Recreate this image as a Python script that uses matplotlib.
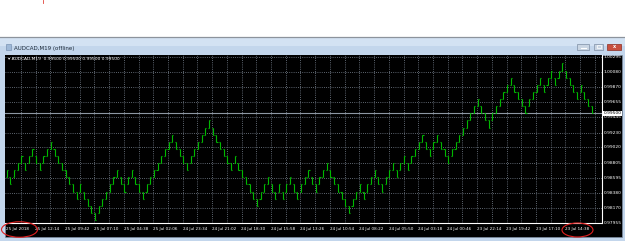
import matplotlib
matplotlib.use('Agg')
from matplotlib import pyplot as plt
from matplotlib.patches import Rectangle, Ellipse
import matplotlib.transforms as mtransforms
import numpy as np

symbol = 'AUDCAD,M19'
window_title = 'AUDCAD,M19 (offline)'
last_price = 0.99500
box = 0.0010

# lower edge of every bar (one box high), oldest bar on the left
bar_lows = [0.986, 0.985, 0.986, 0.987, 0.988, 0.987, 0.988, 0.989, 0.988, 0.987,
            0.988, 0.989, 0.990, 0.989, 0.988, 0.987, 0.986, 0.985, 0.984, 0.983,
            0.984, 0.983, 0.982, 0.981, 0.980, 0.981, 0.982, 0.983, 0.984, 0.985,
            0.986, 0.985, 0.984, 0.985, 0.986, 0.985, 0.984, 0.983, 0.984, 0.985,
            0.986, 0.987, 0.988, 0.989, 0.990, 0.991, 0.990, 0.989, 0.988, 0.987,
            0.988, 0.989, 0.990, 0.991, 0.992, 0.993, 0.992, 0.991, 0.990,
            0.989, 0.988, 0.987, 0.988, 0.987, 0.986, 0.985, 0.984, 0.983, 0.982,
            0.983, 0.984, 0.985, 0.984, 0.983, 0.984, 0.983, 0.984, 0.985, 0.984,
            0.983, 0.984, 0.985, 0.986, 0.985, 0.984, 0.985, 0.986, 0.987, 0.986,
            0.985, 0.984, 0.983, 0.982, 0.981, 0.982, 0.983, 0.984, 0.983, 0.984,
            0.985, 0.986, 0.985, 0.984, 0.985, 0.986, 0.987, 0.986, 0.987, 0.988,
            0.987, 0.988, 0.989, 0.990,
            0.991, 0.990, 0.989, 0.990, 0.991, 0.990, 0.989, 0.988, 0.989, 0.990,
            0.991, 0.992, 0.993, 0.994, 0.995, 0.996, 0.995, 0.994, 0.993, 0.994,
            0.995, 0.996, 0.997, 0.998, 0.999, 0.998, 0.997, 0.996, 0.995, 0.996,
            0.997, 0.998, 0.999, 0.998, 0.999, 1.000, 0.999, 1.000, 1.001, 1.000,
            0.999, 0.998, 0.997, 0.998, 0.997, 0.996, 0.995]

price_ticks = [0.97955, 0.98170, 0.98380, 0.98595, 0.98805, 0.99020,
               0.99230, 0.99445, 0.99655, 0.99870, 1.00080, 1.00295]
price_labels = ['0.97955', '0.98170', '0.98380', '0.98595', '0.98805', '0.99020',
                '0.99230', '0.99445', '0.99655', '0.99870', '1.00080', '1.00295']

time_labels = ['25 Jul 2018', '25 Jul 12:14', '25 Jul 09:42', '25 Jul 07:10',
               '25 Jul 04:38', '25 Jul 02:06', '24 Jul 23:34', '24 Jul 21:02',
               '24 Jul 18:30', '24 Jul 15:58', '24 Jul 13:26', '24 Jul 10:54',
               '24 Jul 08:22', '24 Jul 05:50', '24 Jul 03:18', '24 Jul 00:46',
               '23 Jul 22:14', '23 Jul 19:42', '23 Jul 17:10', '23 Jul 14:38']
time_label_bars = [0, 8, 16, 24, 32, 40, 48, 56, 64, 72,
                   80, 88, 96, 104, 112, 120, 128, 136, 144, 152]

W, H = 625, 241
fig = plt.figure(figsize=(W / 100, H / 100), dpi=100)
fig.patch.set_facecolor('white')

# window frame, drawn in pixel coordinates
bg = fig.add_axes([0, 0, 1, 1], zorder=0)
bg.set_xlim(0, W)
bg.set_ylim(H, 0)
bg.axis('off')
frame_col = '#c3d6ec'
bg.add_patch(Rectangle((0, 37), W, H - 37, facecolor=frame_col, edgecolor='none'))
bg.plot([0, W], [37.3, 37.3], color='#8c939c', lw=0.9)
bg.add_patch(Rectangle((0, 38), W, 8, facecolor='#d3e2f3', edgecolor='none'))
bg.add_patch(Rectangle((4.5, 55), 617.5, 181.5, facecolor='black', edgecolor='#7f8fa3', lw=0.5))
# title icon + text
bg.add_patch(Rectangle((5.5, 44), 5, 5.5, facecolor='#9fb9d8', edgecolor='#6c86a8', lw=0.4))
bg.text(14, 48.3, window_title, fontsize=4, color='#1e2a38', va='center', ha='left')
# window buttons
bg.add_patch(Rectangle((577, 44), 12, 5.5, facecolor='#c9d5e3', edgecolor='#7d8ea4', lw=0.5))
bg.plot([580.5, 585.5], [47.8, 47.8], color='white', lw=0.8)
bg.add_patch(Rectangle((594, 44), 9, 5.5, facecolor='#c9d5e3', edgecolor='#7d8ea4', lw=0.5))
bg.add_patch(Rectangle((596.5, 45.3), 4, 3, facecolor='none', edgecolor='white', lw=0.5))
bg.add_patch(Rectangle((607, 44), 14, 5.5, facecolor='#c8503f', edgecolor='#8b2d22', lw=0.5))
bg.text(614, 46.9, 'x', fontsize=3.5, color='white', ha='center', va='center', weight='bold')
bg.plot([43, 43], [0, 2.5], color='#e0433a', lw=0.6)

# chart area
x0, x1 = 4.5, 602.0
y0, y1 = 55.0, 223.0
ax = fig.add_axes([x0 / W, 1 - y1 / H, (x1 - x0) / W, (y1 - y0) / H], zorder=1)
ax.set_facecolor('black')
ymin, ymax = 0.97959, 1.00319
ax.set_ylim(ymin, ymax)
ax.set_xlim(-0.6, 161.8)

grid_col = '#7b8593'
for p in price_ticks[1:]:
    ax.axhline(p, color=grid_col, lw=0.6, ls=(0, (1, 1.6)), zorder=1)
for gx in np.arange(4, 164, 4):
    ax.axvline(gx - 0.15, color=grid_col, lw=0.6, ls=(0, (1, 1.6)), zorder=1)
ax.axhline(last_price, color='#8d97a3', lw=0.8, zorder=2)

xs = np.arange(len(bar_lows))
lows = np.array(bar_lows)
highs = lows + box
up = np.r_[True, lows[1:] > lows[:-1]]
opens = np.where(up, lows, highs)
closes = np.where(up, highs, lows)
bar_col = '#00b800'
ax.vlines(xs, lows, highs, color=bar_col, lw=0.8, zorder=3)
ax.hlines(opens, xs - 0.3, xs, color=bar_col, lw=0.8, zorder=3)
ax.hlines(closes, xs, xs + 0.3, color=bar_col, lw=0.8, zorder=3)

ax.set_xticks([])
ax.set_yticks([])
for s in ['left', 'top']:
    ax.spines[s].set_visible(False)
for s in ['right', 'bottom']:
    ax.spines[s].set_color('white')
    ax.spines[s].set_linewidth(0.8)

ax.text(0.006, 0.975, '\u25be ' + symbol + '  0.99500 0.99500 0.99500 0.99500',
        transform=ax.transAxes, fontsize=3.2, color='white', va='center', ha='left')

ytr = mtransforms.blended_transform_factory(ax.transAxes, ax.transData)
for p, lab in zip(price_ticks, price_labels):
    ax.text(1.003, p, lab, transform=ytr, fontsize=3.2, color='white',
            va='center', ha='left', clip_on=False)
ax.text(1.003, last_price, '0.99500', transform=ytr, fontsize=3.2, color='black',
        va='center', ha='left', clip_on=False,
        bbox=dict(boxstyle='square,pad=0.15', facecolor='white', edgecolor='none'))

xtr = mtransforms.blended_transform_factory(ax.transData, ax.transAxes)
for b, lab in zip(time_label_bars, time_labels):
    ax.text(b - 0.2, -0.038, lab, transform=xtr, fontsize=3.0, color='white',
            va='center', ha='left', clip_on=False)

# red marks around the first and last time labels
ov = fig.add_axes([0, 0, 1, 1], zorder=3)
ov.set_xlim(0, W)
ov.set_ylim(H, 0)
ov.axis('off')
ov.add_patch(Ellipse((19.5, 229.5), 36, 15.5, facecolor='none', edgecolor='#e02020', lw=0.8))
ov.add_patch(Ellipse((577.5, 230), 31, 14, facecolor='none', edgecolor='#e02020', lw=0.8))

fig.savefig('out.png', dpi=100, facecolor='white')
